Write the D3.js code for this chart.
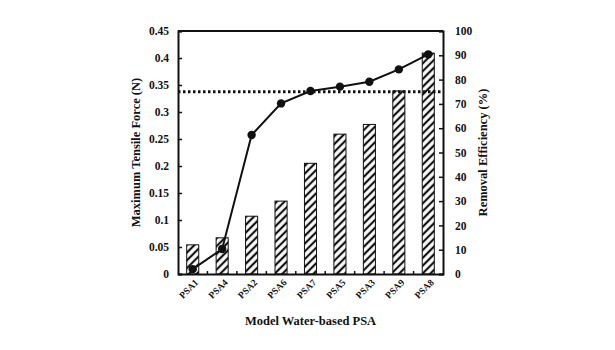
<!DOCTYPE html>
<html>
<head>
<meta charset="utf-8">
<script src="https://cdn.jsdelivr.net/npm/d3@7"></script>
<style>
  html, body { margin: 0; padding: 0; background: #fff; }
  svg { display: block; font-family: "Liberation Serif", "Times New Roman", serif; }
</style>
</head>
<body>
<svg id="chart" width="615" height="350"></svg>
<script>
// Model water-based PSA samples, ordered by removal efficiency
const categories = ["PSA1", "PSA4", "PSA2", "PSA6", "PSA7", "PSA5", "PSA3", "PSA9", "PSA8"];
// Maximum tensile force (N) — bars, left axis
const tensileForce = [0.054, 0.067, 0.107, 0.135, 0.205, 0.259, 0.277, 0.339, 0.409];
// Removal efficiency (%) — line, right axis
const removalEff = [2.0, 10.3, 57.2, 70.2, 75.3, 77.1, 79.1, 84.2, 90.4];
// Reference level drawn as a dotted line (%)
const thresholdEff = [75];
const leftTicks = [0, 0.05, 0.1, 0.15, 0.2, 0.25, 0.3, 0.35, 0.4, 0.45];
const rightTicks = [0, 10, 20, 30, 40, 50, 60, 70, 80, 90, 100];

const FONT = '"Liberation Serif", "Times New Roman", serif';
const svg = d3.select("#chart");
const m = { left: 178, right: 443, top: 31, bottom: 274 };

const x = d3.scaleBand().domain(categories).range([m.left, m.right]).paddingInner(0.59).paddingOuter(0.295);
const yL = d3.scaleLinear().domain([0, 0.45]).range([m.bottom, m.top]);
const yR = d3.scaleLinear().domain([0, 100]).range([m.bottom, m.top]);

// hatch pattern for bars
const defs = svg.append("defs");
const pat = defs.append("pattern")
  .attr("id", "hatch").attr("patternUnits", "userSpaceOnUse")
  .attr("width", 5.5).attr("height", 5.5)
  .attr("patternTransform", "rotate(45)");
pat.append("rect").attr("width", 5.5).attr("height", 5.5).attr("fill", "#fff");
pat.append("line").attr("x1", 2.75).attr("y1", 0).attr("x2", 2.75).attr("y2", 5.5)
  .attr("stroke", "#111").attr("stroke-width", 2.2);

// bars
svg.append("g").selectAll("rect").data(categories).join("rect")
  .attr("x", d => x(d))
  .attr("y", (d, i) => yL(tensileForce[i]))
  .attr("width", x.bandwidth())
  .attr("height", (d, i) => yL(0) - yL(tensileForce[i]))
  .attr("fill", "url(#hatch)")
  .attr("stroke", "#111").attr("stroke-width", 1);

// dotted threshold line
svg.append("g").selectAll("line").data(thresholdEff).join("line")
  .attr("x1", m.left).attr("x2", m.right)
  .attr("y1", d => yR(d)).attr("y2", d => yR(d))
  .attr("stroke", "#111").attr("stroke-width", 3)
  .attr("stroke-dasharray", "2.5,2.5");

// efficiency line with markers
const pts = categories.map((c, i) => [x(c) + x.bandwidth() / 2, yR(removalEff[i])]);
svg.append("path").datum(pts)
  .attr("d", d3.line())
  .attr("fill", "none").attr("stroke", "#111").attr("stroke-width", 2);
svg.append("g").selectAll("circle").data(pts).join("circle")
  .attr("cx", d => d[0]).attr("cy", d => d[1]).attr("r", 4.2)
  .attr("fill", "#111");

// axes (ticks point inward)
const fmtL = d => d === 0 ? "0" : String(+d.toFixed(2));
const gL = svg.append("g").attr("transform", `translate(${m.left},0)`)
  .call(d3.axisLeft(yL).tickValues(leftTicks).tickFormat(fmtL).tickSize(-4).tickPadding(9));
const gR = svg.append("g").attr("transform", `translate(${m.right},0)`)
  .call(d3.axisRight(yR).tickValues(rightTicks).tickSize(-4).tickPadding(12));
const gB = svg.append("g").attr("transform", `translate(0,${m.bottom})`)
  .call(d3.axisBottom(x).tickSize(0).tickPadding(8));

[gL, gR, gB].forEach(g => {
  g.attr("font-family", FONT);
  g.select(".domain").attr("stroke", "#111").attr("stroke-width", 2);
  g.selectAll(".tick line").attr("stroke", "#111").attr("stroke-width", 1.5);
  g.selectAll("text").attr("fill", "#111").style("font-weight", "bold");
});
gL.selectAll("text").style("font-size", "11.5px");
gR.selectAll("text").style("font-size", "11.5px");
gB.selectAll("text")
  .style("font-size", "9.5px")
  .attr("text-anchor", "end")
  .attr("dy", "0.3em")
  .attr("transform", "rotate(-45) translate(-2,0)");

// small ticks at band boundaries along the x axis
const bounds = categories.slice(1).map(c => x(c) - x.step() * x.paddingInner() / 2);
svg.append("g").selectAll("line").data(bounds).join("line")
  .attr("x1", d => d).attr("x2", d => d)
  .attr("y1", m.bottom).attr("y2", m.bottom - 3)
  .attr("stroke", "#111").attr("stroke-width", 1.5);

// top border of the frame
svg.append("line").attr("x1", m.left).attr("x2", m.right)
  .attr("y1", m.top).attr("y2", m.top)
  .attr("stroke", "#111").attr("stroke-width", 2);

// axis titles
svg.append("text")
  .attr("transform", `translate(136,${(m.top + m.bottom) / 2}) rotate(-90)`)
  .attr("text-anchor", "middle").attr("dy", "0.35em")
  .style("font-size", "12.5px").style("font-weight", "bold").attr("fill", "#111")
  .text("Maximum Tensile Force (N)");
svg.append("text")
  .attr("transform", `translate(483,${(m.top + m.bottom) / 2}) rotate(-90)`)
  .attr("text-anchor", "middle").attr("dy", "0.35em")
  .style("font-size", "12.5px").style("font-weight", "bold").attr("fill", "#111")
  .text("Removal Efficiency (%)");
svg.append("text")
  .attr("x", (m.left + m.right) / 2).attr("y", 325)
  .attr("text-anchor", "middle")
  .style("font-size", "12.5px").style("font-weight", "bold").attr("fill", "#111")
  .text("Model Water-based PSA");
</script>
</body>
</html>
